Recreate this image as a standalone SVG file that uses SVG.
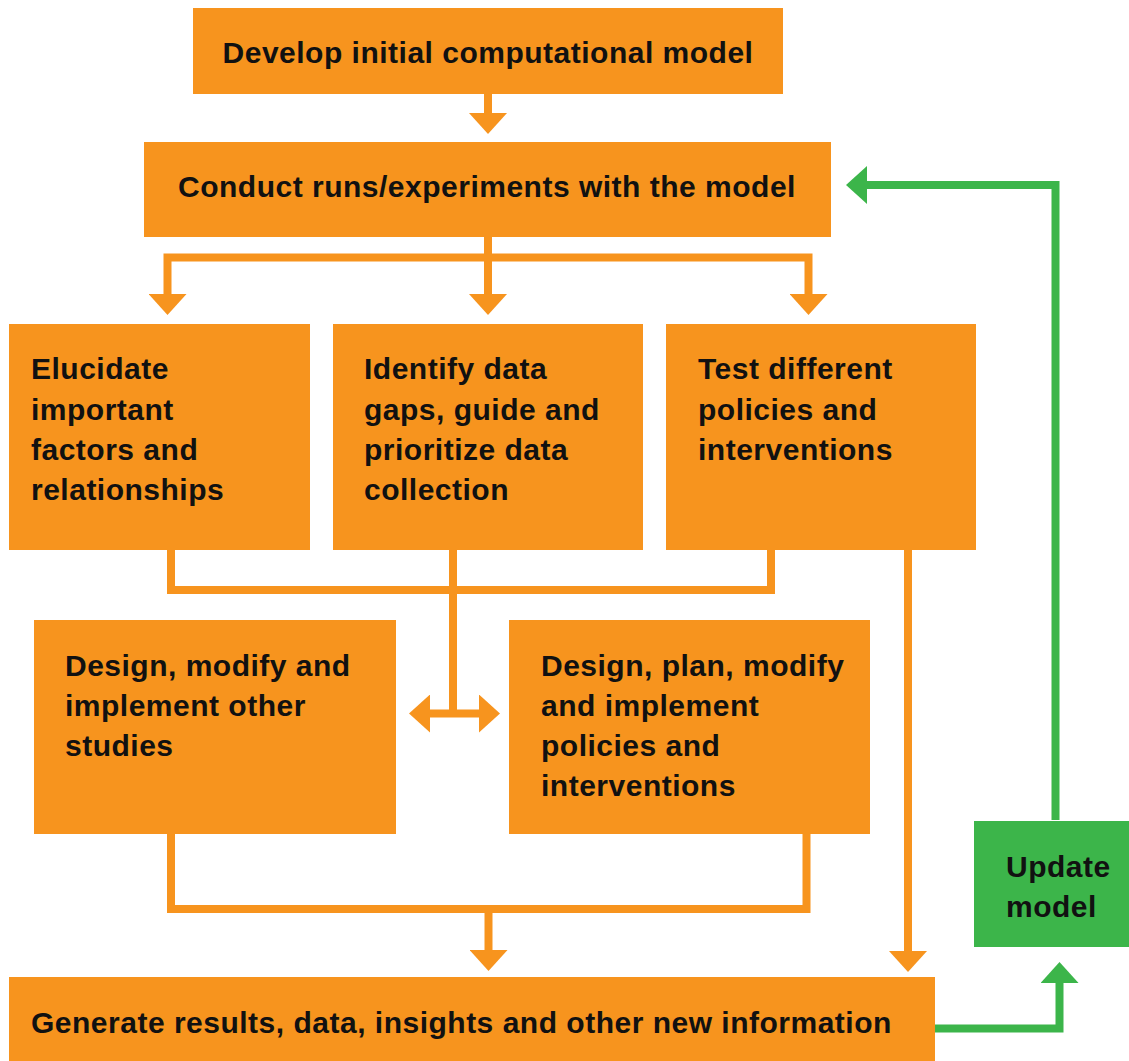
<svg xmlns="http://www.w3.org/2000/svg" width="1129" height="1061" viewBox="0 0 1129 1061">
<style>
.box{fill:#F7941E}
.gbox{fill:#3CB54A}
.t{font-family:"Liberation Sans",Arial,sans-serif;font-weight:bold;font-size:30px;letter-spacing:0.5px;fill:#111}
.c{text-anchor:middle}
.ol{fill:none;stroke:#F7941E;stroke-width:8;stroke-linejoin:miter}
.gl{fill:none;stroke:#3CB54A;stroke-width:8;stroke-linejoin:miter}
</style>
<defs>
<marker id="ao" viewBox="0 0 21 38" refX="0" refY="19" markerWidth="21" markerHeight="38" markerUnits="userSpaceOnUse" orient="auto-start-reverse"><path d="M0,0 L21,19 L0,38 Z" fill="#F7941E"/></marker>
<marker id="ag" viewBox="0 0 21 38" refX="0" refY="19" markerWidth="21" markerHeight="38" markerUnits="userSpaceOnUse" orient="auto-start-reverse"><path d="M0,0 L21,19 L0,38 Z" fill="#3CB54A"/></marker>
</defs>
<g id="connectors">
<path class="ol" d="M488,94 V113" marker-end="url(#ao)"/>
<path class="ol" d="M488,237 V294" marker-end="url(#ao)"/>
<path class="ol" d="M167.5,294 V257.5 H808.5 V294" marker-start="url(#ao)" marker-end="url(#ao)"/>
<path class="ol" d="M171,550 V590 H771 V550"/>
<path class="ol" d="M453,550 V713.5"/>
<path class="ol" d="M430,713.5 H479" marker-start="url(#ao)" marker-end="url(#ao)"/>
<path class="ol" d="M908,550 V951" marker-end="url(#ao)"/>
<path class="ol" d="M171,834 V909 H806.5 V834"/>
<path class="ol" d="M488.5,909 V950" marker-end="url(#ao)"/>
<path class="gl" d="M935,1028.5 H1059.5 V983" marker-end="url(#ag)"/>
<path class="gl" d="M1055.5,820 V185 H867" marker-end="url(#ag)"/>
</g>
<g id="n1"><rect class="box" x="193" y="8" width="590" height="86"/><text class="t c" x="488" y="63">Develop initial computational model</text></g>
<g id="n2"><rect class="box" x="144" y="142" width="687" height="95"/><text class="t c" x="487" y="197">Conduct runs/experiments with the model</text></g>
<g id="n3"><rect class="box" x="9" y="324" width="301" height="226"/><text class="t" x="31" y="379">Elucidate<tspan x="31" y="420">important</tspan><tspan x="31" y="460">factors and</tspan><tspan x="31" y="500">relationships</tspan></text></g>
<g id="n4"><rect class="box" x="333" y="324" width="310" height="226"/><text class="t" x="364" y="379">Identify data<tspan x="364" y="420">gaps, guide and</tspan><tspan x="364" y="460">prioritize data</tspan><tspan x="364" y="500">collection</tspan></text></g>
<g id="n5"><rect class="box" x="666" y="324" width="310" height="226"/><text class="t" x="698" y="379">Test different<tspan x="698" y="420">policies and</tspan><tspan x="698" y="460">interventions</tspan></text></g>
<g id="n6"><rect class="box" x="34" y="620" width="362" height="214"/><text class="t" x="65" y="676">Design, modify and<tspan x="65" y="716">implement other</tspan><tspan x="65" y="756">studies</tspan></text></g>
<g id="n7"><rect class="box" x="509" y="620" width="361" height="214"/><text class="t" x="541" y="676">Design, plan, modify<tspan x="541" y="716">and implement</tspan><tspan x="541" y="756">policies and</tspan><tspan x="541" y="796">interventions</tspan></text></g>
<g id="n8"><rect class="box" x="9" y="977" width="926" height="84"/><text class="t" x="31" y="1033">Generate results, data, insights and other new information</text></g>
<g id="n9"><rect class="gbox" x="974" y="821" width="155" height="126"/><text class="t" x="1006" y="877">Update<tspan x="1006" y="917">model</tspan></text></g>
</svg>
